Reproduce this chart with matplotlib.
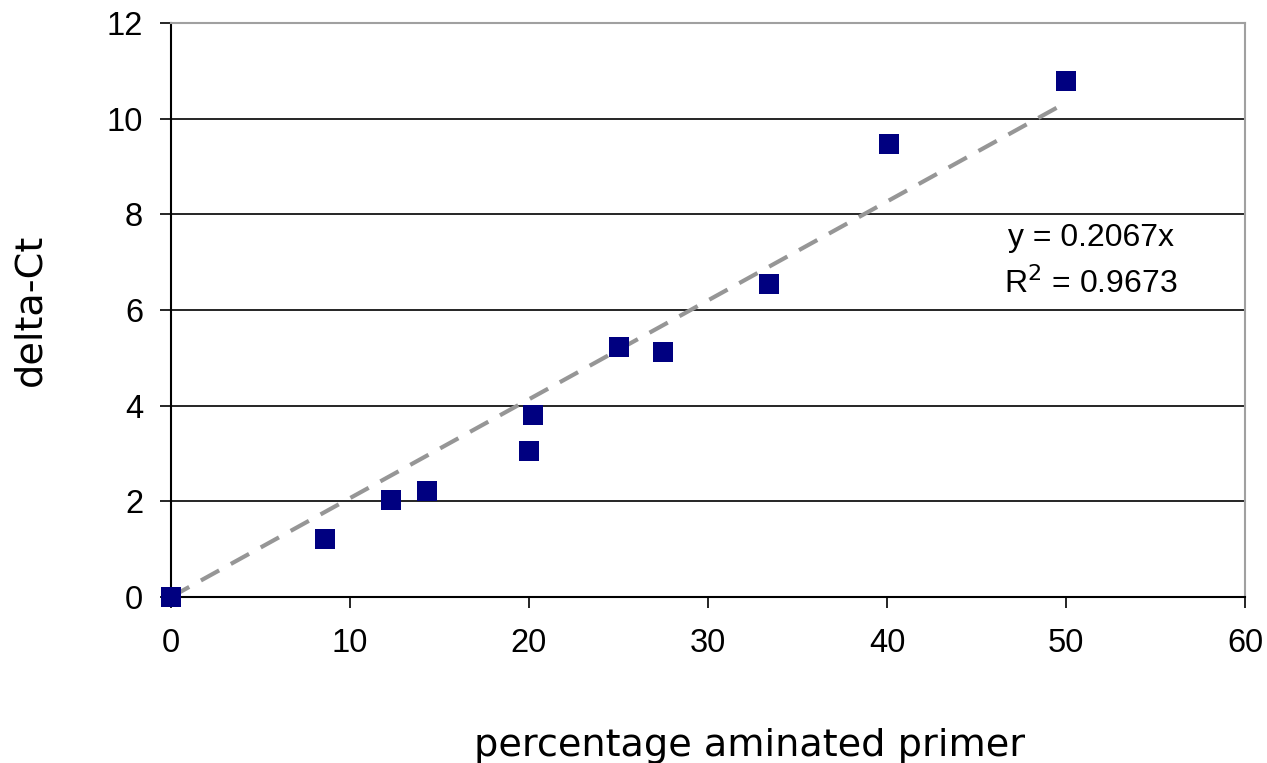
import matplotlib
matplotlib.use("Agg")
import matplotlib.pyplot as plt
import numpy as np

# Percentage of aminated primer vs. measured delta-Ct
pct_aminated = [0.0, 8.6, 12.3, 14.3, 20.0, 20.2, 25.0, 27.5, 33.4, 40.1, 50.0]
delta_ct = [0.0, 1.22, 2.03, 2.21, 3.06, 3.80, 5.23, 5.12, 6.55, 9.46, 10.78]

slope = 0.2067
r_squared = 0.9673
fit_x = [0.0, 50.0]

x_ticks = [0, 10, 20, 30, 40, 50, 60]
y_ticks = [0, 2, 4, 6, 8, 10, 12]

W, H = 1267, 763
fig = plt.figure(figsize=(W / 100, H / 100), dpi=100)
ax = fig.add_axes([171 / W, 1 - 597 / H, (1245 - 171) / W, (597 - 23) / H])

ax.set_xlim(0, 60)
ax.set_ylim(0, 12)

for yv in y_ticks[1:]:
    ax.axhline(yv, color="black", linewidth=1.2, zorder=1)

ax.plot(fit_x, [slope * v for v in fit_x], linestyle=(0, (5, 3.2)),
        color="#969696", linewidth=3, zorder=2)

ax.scatter(pct_aminated, delta_ct, marker="s", s=200, color="#000080",
           linewidths=0, zorder=3, clip_on=False)

ax.set_xticks(x_ticks)
ax.set_yticks(y_ticks)
ax.tick_params(axis="both", direction="out", length=8, width=1.2,
               labelsize=23.5, color="black")
ax.tick_params(axis="x", pad=14)
ax.tick_params(axis="y", pad=12)
for lbl in ax.get_xticklabels() + ax.get_yticklabels():
    lbl.set_fontfamily("Liberation Sans")

ax.spines["left"].set_color("black")
ax.spines["bottom"].set_color("black")
ax.spines["left"].set_linewidth(1.5)
ax.spines["bottom"].set_linewidth(1.5)
ax.spines["top"].set_color("#a0a0a0")
ax.spines["right"].set_color("#a0a0a0")
ax.spines["top"].set_linewidth(1.5)
ax.spines["right"].set_linewidth(1.5)

ax.set_xlabel("percentage aminated primer", fontsize=27.5, family="DejaVu Sans", labelpad=50)
ax.xaxis.label.set_x(0.539)
ax.set_ylabel("delta-Ct", fontsize=27.5, family="DejaVu Sans", labelpad=42)
ax.yaxis.label.set_y(0.50)

ax.text(1091, H - 238, f"y = {slope:.4f}x", transform=None, fontsize=23,
        family="Liberation Sans", ha="center", va="center")
ax.text(1091, H - 284, f"R$^2$ = {r_squared:.4f}", transform=None, fontsize=23,
        family="Liberation Sans", ha="center", va="center")

fig.savefig("out.png", dpi=100)
